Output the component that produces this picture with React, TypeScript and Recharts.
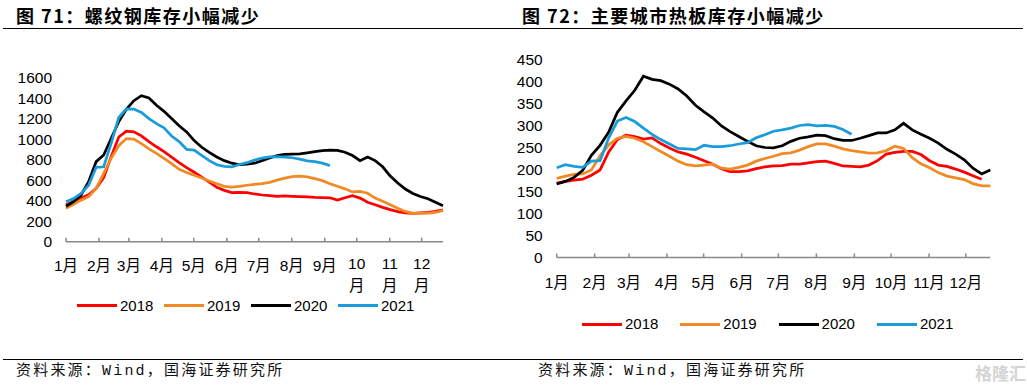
import React from 'react';
import { LineChart, Line, XAxis, YAxis, Legend } from 'recharts';

const FONT = "'Liberation Sans', Arial, 'Noto Sans CJK SC', sans-serif";
const CJK = "'Noto Sans CJK SC', sans-serif";
const SOURCE_FONT = "'Liberation Mono', 'Noto Sans CJK SC', monospace";

const years = ['2018', '2019', '2020', '2021'];
const colors = ['#FF0000', '#F08A24', '#000000', '#1B9CDA'];

const monthStartDays = [0, 31, 59, 90, 120, 151, 181, 212, 243, 273, 304, 334];
const monthLabels = ['1月', '2月', '3月', '4月', '5月', '6月', '7月', '8月', '9月', '10月', '11月', '12月'];
const lastDay = 354;
const pointCount = 51;

// 图71 螺纹钢库存（万吨）
const rebarTicks = [0, 200, 400, 600, 800, 1000, 1200, 1400, 1600];
const rebar2018 = [357, 392, 425, 457, 520, 625, 830, 1020, 1078, 1070, 1032, 975, 925, 878, 825, 770, 722, 677, 630, 580, 530, 500, 478, 480, 478, 465, 455, 448, 442, 446, 442, 439, 436, 432, 430, 428, 405, 428, 448, 425, 385, 360, 335, 312, 293, 280, 276, 280, 285, 295, 310];
const rebar2019 = [325, 365, 405, 440, 520, 665, 815, 935, 1005, 1000, 955, 905, 860, 812, 760, 705, 675, 648, 620, 592, 565, 540, 532, 540, 550, 558, 565, 578, 600, 620, 635, 638, 632, 615, 595, 565, 540, 515, 485, 490, 472, 425, 395, 360, 325, 295, 276, 276, 278, 285, 305];
const rebar2020 = [345, 390, 455, 585, 780, 845, 1008, 1170, 1290, 1374, 1423, 1400, 1330, 1270, 1200, 1130, 1070, 985, 920, 870, 825, 790, 765, 750, 755, 765, 790, 815, 840, 850, 853, 855, 866, 877, 888, 893, 890, 872, 840, 790, 826, 790, 730, 640, 572, 513, 470, 440, 418, 385, 351];
const rebar2021 = [390, 420, 470, 550, 725, 730, 960, 1210, 1295, 1293, 1260, 1200, 1150, 1110, 1030, 975, 900, 893, 840, 790, 750, 735, 730, 752, 770, 795, 815, 826, 828, 825, 818, 805, 788, 781, 765, 741];

// 图72 主要城市热板库存（万吨）
const hrcTicks = [0, 50, 100, 150, 200, 250, 300, 350, 400, 450];
const hrc2018 = [169, 173, 176, 178, 187, 199, 240, 268, 278, 275, 269, 272, 259, 249, 240, 235, 228, 220, 212, 202, 195, 195, 197, 202, 206, 208, 209, 212, 212, 215, 218, 219, 214, 208, 207, 206, 210, 220, 235, 239, 241, 241, 234, 220, 210, 207, 201, 194, 186, 178];
const hrc2019 = [180, 185, 189, 190, 199, 231, 256, 271, 275, 271, 263, 252, 241, 230, 219, 211, 208, 210, 212, 203, 201, 205, 210, 219, 225, 230, 236, 238, 244, 252, 258, 258, 253, 247, 243, 240, 237, 238, 243, 253, 248, 227, 213, 204, 193, 185, 181, 177, 168, 163, 163];
const hrc2020 = [167, 173, 182, 198, 232, 255, 285, 330, 356, 380, 412, 405, 402, 394, 383, 367, 346, 331, 317, 299, 286, 275, 264, 254, 250, 249, 254, 264, 271, 274, 278, 277, 270, 266, 266, 271, 277, 283, 283, 290, 305, 290, 280, 271, 260, 246, 235, 222, 203, 190, 199];
const hrc2021 = [204, 211, 207, 205, 219, 220, 272, 310, 318, 309, 294, 280, 268, 258, 248, 247, 245, 255, 252, 252, 254, 258, 261, 272, 279, 287, 290, 294, 300, 302, 299, 300, 298, 291, 280];

function buildRows(seriesList: number[][]) {
  const step = lastDay / (pointCount - 1);
  const rows: Record<string, number | null>[] = [];
  for (let i = 0; i < pointCount; i++) {
    const row: Record<string, number | null> = { day: i * step };
    seriesList.forEach((s, k) => {
      row[years[k]] = i < s.length ? s[i] : null;
    });
    rows.push(row);
  }
  return rows;
}

const rebarRows = buildRows([rebar2018, rebar2019, rebar2020, rebar2021]);
const hrcRows = buildRows([hrc2018, hrc2019, hrc2020, hrc2021]);

function MonthTick(props: any) {
  const { x, y, payload, wrapLong, baseOffset } = props;
  const idx = monthStartDays.indexOf(payload.value);
  const label = idx >= 0 ? monthLabels[idx] : '';
  if (wrapLong && label.length > 2) {
    return (
      <text textAnchor="middle" fill="#000" fontSize={15.5} fontFamily={FONT}>
        <tspan x={x} y={y + 26.8}>{label.slice(0, -1)}</tspan>
        <tspan x={x} y={y + 49}>{label.slice(-1)}</tspan>
      </text>
    );
  }
  return (
    <text x={x} y={y + baseOffset} textAnchor="middle" fill="#000" fontSize={15.5} fontFamily={FONT}>
      {label}
    </text>
  );
}

const makeLegend = (start: number, step: number) => (props: any) => (
  <div style={{ position: 'relative', height: 0 }}>
    {(props.payload || []).map((entry: any, i: number) => (
      <div
        key={String(entry.value)}
        style={{
          position: 'absolute',
          left: start + i * step,
          top: 0,
          height: 18,
          display: 'flex',
          alignItems: 'center',
          whiteSpace: 'nowrap',
        }}
      >
        <span style={{ display: 'inline-block', width: 40, height: 3, background: entry.color }} />
        <span style={{ marginLeft: 3, fontSize: 15, fontFamily: FONT, color: '#000', lineHeight: '18px' }}>
          {entry.value}
        </span>
      </div>
    ))}
  </div>
);

type PanelProps = {
  rows: Record<string, number | null>[];
  width: number;
  plotLeft: number;
  plotRight: number;
  plotTop: number;
  plotBottom: number;
  yTicks: number[];
  wrapLong: boolean;
  labelOffset: number;
  legendTop: number;
  legendStart: number;
  legendStep: number;
};

const Y_W = 40;
const X_H = 60;
const H = 386;

function Panel(p: PanelProps) {
  return (
    <LineChart
      width={p.width}
      height={H}
      data={p.rows}
      margin={{
        top: p.plotTop,
        right: p.width - p.plotRight,
        left: p.plotLeft - Y_W,
        bottom: H - p.plotBottom - X_H,
      }}
    >
      <XAxis
        dataKey="day"
        type="number"
        domain={[0, lastDay]}
        ticks={monthStartDays}
        interval={0}
        height={X_H}
        tickSize={-4}
        tickMargin={4}
        axisLine={{ stroke: '#898989', strokeWidth: 1.5 }}
        tickLine={{ stroke: '#898989', strokeWidth: 1.5 }}
        tick={(tp: any) => <MonthTick {...tp} wrapLong={p.wrapLong} baseOffset={p.labelOffset} />}
      />
      <YAxis
        type="number"
        domain={[0, p.yTicks[p.yTicks.length - 1]]}
        ticks={p.yTicks}
        interval={0}
        width={Y_W}
        axisLine={false}
        tickLine={false}
        tickSize={0}
        tickMargin={14}
        tick={{ fill: '#000', fontSize: 15.5, fontFamily: FONT }}
      />
      <Legend
        layout="horizontal"
        verticalAlign="middle"
        align="center"
        wrapperStyle={{ top: p.legendTop, left: 0, width: p.width, height: 0 }}
        content={makeLegend(p.legendStart, p.legendStep)}
      />
      {years.map((yr, k) => (
        <Line
          key={yr}
          type="linear"
          dataKey={yr}
          name={yr}
          stroke={colors[k]}
          strokeWidth={2.75}
          dot={false}
          activeDot={false}
          connectNulls={false}
          isAnimationActive={false}
        />
      ))}
    </LineChart>
  );
}

export default function App() {
  return (
    <div
      style={{
        position: 'absolute',
        left: 0,
        top: 0,
        width: 1027,
        height: 386,
        background: '#fff',
        overflow: 'hidden',
      }}
    >
      <div style={{ position: 'absolute', left: 16, top: 3, fontFamily: CJK, fontWeight: 700, fontSize: 18, lineHeight: '24px', letterSpacing: 1.5, color: '#000', whiteSpace: 'nowrap' }}>
        图 71：螺纹钢库存小幅减少
      </div>
      <div style={{ position: 'absolute', left: 522, top: 3, fontFamily: CJK, fontWeight: 700, fontSize: 18, lineHeight: '24px', letterSpacing: 1.5, color: '#000', whiteSpace: 'nowrap' }}>
        图 72：主要城市热板库存小幅减少
      </div>
      <div style={{ position: 'absolute', left: 3, top: 28, width: 1020, height: 1, background: '#000' }} />
      <div style={{ position: 'absolute', left: 3, top: 359, width: 1020, height: 1, background: '#000' }} />

      <div style={{ position: 'absolute', left: 0, top: 0 }}>
        <Panel
          rows={rebarRows}
          width={513}
          plotLeft={66}
          plotRight={443}
          plotTop={77.5}
          plotBottom={241.7}
          yTicks={rebarTicks}
          wrapLong={true}
          labelOffset={29.5}
          legendTop={296.7}
          legendStart={77}
          legendStep={87}
        />
      </div>
      <div style={{ position: 'absolute', left: 513, top: 0 }}>
        <Panel
          rows={hrcRows}
          width={514}
          plotLeft={43.7}
          plotRight={477.3}
          plotTop={59.5}
          plotBottom={257.5}
          yTicks={hrcTicks}
          wrapLong={false}
          labelOffset={30.5}
          legendTop={315}
          legendStart={69}
          legendStep={98.3}
        />
      </div>

      <div style={{ position: 'absolute', left: 16, top: 362, fontFamily: SOURCE_FONT, fontSize: 15, lineHeight: '20px', letterSpacing: 2.2, color: '#111', whiteSpace: 'nowrap' }}>
        资料来源：Wind，国海证券研究所
      </div>
      <div style={{ position: 'absolute', left: 538, top: 362, fontFamily: SOURCE_FONT, fontSize: 15, lineHeight: '20px', letterSpacing: 2.2, color: '#111', whiteSpace: 'nowrap' }}>
        资料来源：Wind，国海证券研究所
      </div>
      <div style={{ position: 'absolute', left: 975, top: 362, fontFamily: CJK, fontWeight: 700, fontSize: 17, lineHeight: '22px', color: '#d4d4d4', whiteSpace: 'nowrap' }}>
        格隆汇
      </div>
    </div>
  );
}
